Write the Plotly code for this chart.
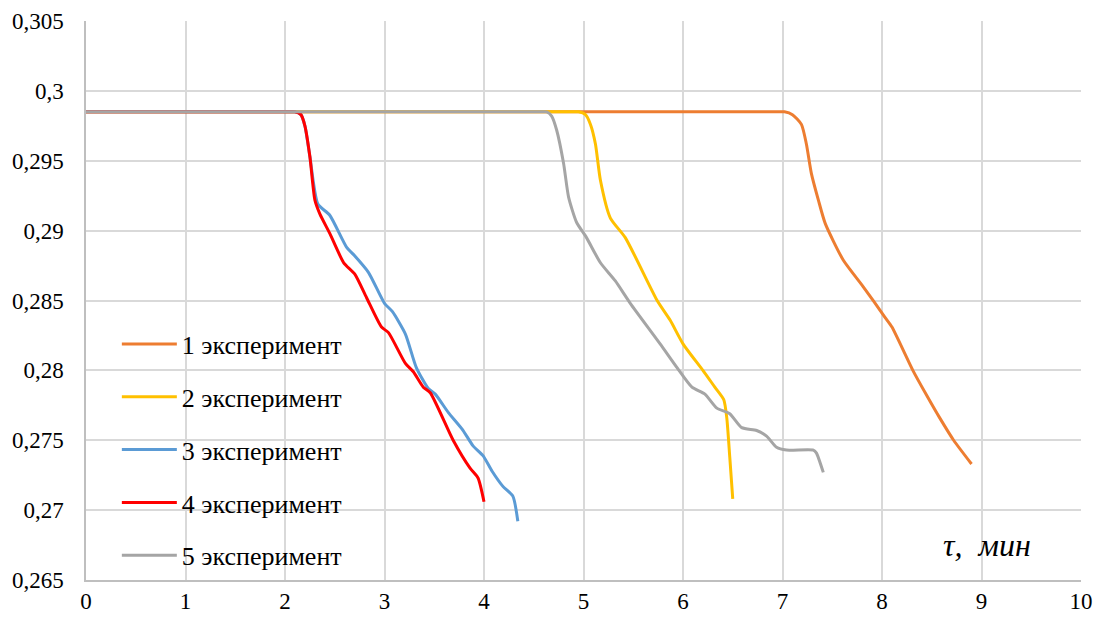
import plotly.graph_objects as go

# Experiment 1 (orange)
x1 = [0, 1, 2, 3, 4, 5, 6, 6.5, 6.9, 7.02, 7.10, 7.19, 7.24, 7.29, 7.36, 7.43, 7.61, 7.81, 8.03, 8.10, 8.31, 8.45, 8.58, 8.72, 8.90]
y1 = [0.2985, 0.2985, 0.2985, 0.2985, 0.2985, 0.2985, 0.2985, 0.2985, 0.2985, 0.2985, 0.2983, 0.2976, 0.2962, 0.2941, 0.2922, 0.2905, 0.2879, 0.2860, 0.2838, 0.2831, 0.2800, 0.2782, 0.2766, 0.2750, 0.2733]
# Experiment 2 (yellow)
x2 = [0, 1, 2, 3, 4, 4.5, 4.85, 4.95, 5.02, 5.07, 5.12, 5.17, 5.27, 5.42, 5.74, 5.87, 6.00, 6.20, 6.32, 6.41, 6.44, 6.47, 6.50]
y2 = [0.2985, 0.2985, 0.2985, 0.2985, 0.2985, 0.2985, 0.2985, 0.2985, 0.2983, 0.2976, 0.2962, 0.2936, 0.2909, 0.2895, 0.2850, 0.2836, 0.2819, 0.2800, 0.2788, 0.2779, 0.2766, 0.2738, 0.2708]
# Experiment 3 (blue)
x3 = [0, 1, 1.6, 2.0, 2.10, 2.16, 2.20, 2.25, 2.33, 2.45, 2.62, 2.70, 2.84, 3.00, 3.08, 3.21, 3.32, 3.44, 3.51, 3.64, 3.78, 3.89, 3.99, 4.08, 4.19, 4.29, 4.34]
y3 = [0.2985, 0.2985, 0.2985, 0.2985, 0.2985, 0.2983, 0.2975, 0.2953, 0.2919, 0.2911, 0.2888, 0.2882, 0.2870, 0.2848, 0.2842, 0.2826, 0.2802, 0.2787, 0.2783, 0.2770, 0.2758, 0.2746, 0.2739, 0.2728, 0.2717, 0.2710, 0.2692]
# Experiment 4 (red)
x4 = [0, 1, 1.6, 2.0, 2.10, 2.16, 2.20, 2.25, 2.30, 2.35, 2.45, 2.59, 2.70, 2.82, 2.97, 3.04, 3.21, 3.29, 3.39, 3.46, 3.69, 3.86, 3.94, 4.00]
y4 = [0.2985, 0.2985, 0.2985, 0.2985, 0.2985, 0.2983, 0.2975, 0.2953, 0.2922, 0.2912, 0.2898, 0.2877, 0.2869, 0.2852, 0.2831, 0.2827, 0.2805, 0.2799, 0.2788, 0.2784, 0.2750, 0.2730, 0.2723, 0.2706]
# Experiment 5 (gray)
x5 = [0, 1, 2, 3, 3.8, 4.3, 4.55, 4.63, 4.68, 4.73, 4.80, 4.85, 4.93, 5.03, 5.17, 5.32, 5.47, 5.77, 5.94, 6.09, 6.22, 6.34, 6.47, 6.59, 6.74, 6.84, 6.94, 7.04, 7.31, 7.34, 7.41]
y5 = [0.2985, 0.2985, 0.2985, 0.2985, 0.2985, 0.2985, 0.2985, 0.2985, 0.2982, 0.2972, 0.2948, 0.2924, 0.2906, 0.2895, 0.2877, 0.2864, 0.2848, 0.2819, 0.2802, 0.2788, 0.2783, 0.2773, 0.2769, 0.2759, 0.2757, 0.2753, 0.2745, 0.2743, 0.2743, 0.2741, 0.2727]

names = ["1 эксперимент", "2 эксперимент", "3 эксперимент", "4 эксперимент", "5 эксперимент"]
colors = ["#ED7D31", "#FFC000", "#5B9BD5", "#FF0000", "#A5A5A5"]

x_ticks = [0, 1, 2, 3, 4, 5, 6, 7, 8, 9, 10]
y_ticks = [0.265, 0.27, 0.275, 0.28, 0.285, 0.29, 0.295, 0.3, 0.305]
y_tick_text = ["0,265", "0,27", "0,275", "0,28", "0,285", "0,29", "0,295", "0,3", "0,305"]

fig = go.Figure()
for i, (xs, ys) in enumerate([(x1, y1), (x2, y2), (x3, y3), (x4, y4), (x5, y5)]):
    fig.add_trace(go.Scatter(
        x=xs, y=ys, mode="lines", name=names[i], legendgroup=str(i),
        line=dict(color=colors[i], width=3, shape="spline", smoothing=0.6),
    ))

font_family = "'Liberation Serif', Tinos, 'Times New Roman', 'DejaVu Serif', serif"
# page body has an 8px default margin; margins compensate so the plot area sits at 86..1081 x 21..580
fig.update_layout(
    width=1102, height=619,
    margin=dict(l=78, r=29, t=13, b=47),
    paper_bgcolor="white", plot_bgcolor="white",
    font=dict(family=font_family, size=23, color="black"),
    showlegend=True,
    legend=dict(
        x=0.031, y=0.464, xanchor="left", yanchor="top",
        bgcolor="rgba(0,0,0,0)", font=dict(family=font_family, size=26, color="black"),
        traceorder="grouped", tracegroupgap=16, itemwidth=55,
    ),
    xaxis=dict(
        range=[0, 10], tickvals=x_ticks, ticktext=[str(v) for v in x_ticks],
        showgrid=True, gridcolor="#D9D9D9", gridwidth=1.5,
        showline=True, linecolor="#BFBFBF", linewidth=1.5,
        zeroline=False, ticks="", tickfont=dict(family=font_family, size=23),
        automargin=False,
    ),
    yaxis=dict(
        range=[0.265, 0.305], tickvals=y_ticks, ticktext=y_tick_text,
        showgrid=True, gridcolor="#D9D9D9", gridwidth=1.5,
        showline=True, linecolor="#BFBFBF", linewidth=1.5,
        zeroline=False, ticks="", tickfont=dict(family=font_family, size=23),
        automargin=False, ticklabelstandoff=16,
    ),
    annotations=[dict(
        x=0.952, y=0.027, xref="paper", yref="paper", xanchor="right", yanchor="bottom",
        text="<i>τ,  мин</i>", showarrow=False,
        font=dict(family=font_family, size=32, color="black"),
    )],
)

fig.write_html("out.html")
